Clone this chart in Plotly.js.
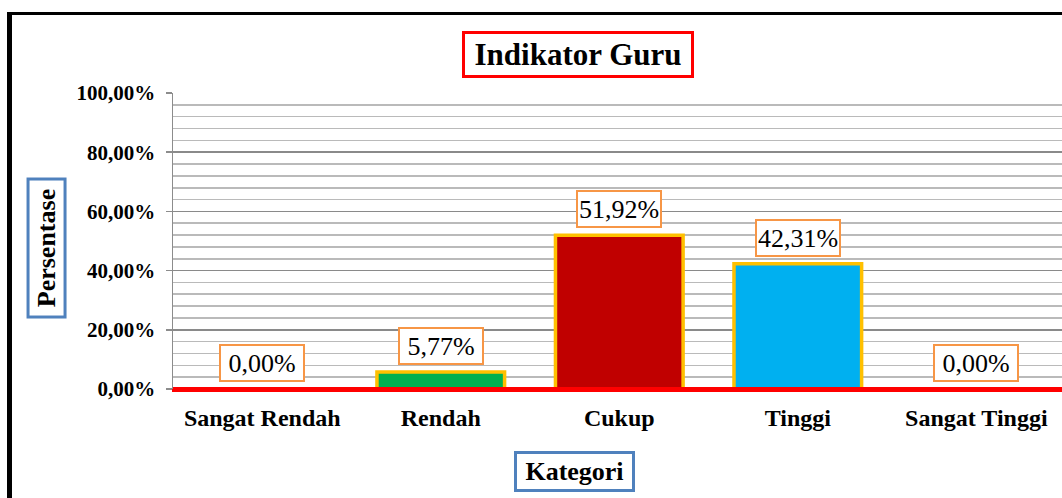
<!DOCTYPE html>
<html>
<head>
<meta charset="utf-8">
<script src="https://cdn.plot.ly/plotly-3.0.1.min.js"></script>
<style>
  html, body { margin: 0; padding: 0; background: #fff; overflow: hidden; }
  #chart { position: absolute; left: 0; top: 0; width: 1062px; height: 498px; }
  #frame { position: absolute; left: 7px; top: 12px; width: 1200px; height: 600px;
           border-left: 5px solid #000; border-top: 3px solid #000; pointer-events: none; }
</style>
</head>
<body>
<div id="chart"></div>
<div id="frame"></div>
<script>
var categories = ["Sangat Rendah", "Rendah", "Cukup", "Tinggi", "Sangat Tinggi"];
var values = [0.00, 5.77, 51.92, 42.31, 0.00];
var valueLabels = ["0,00%", "5,77%", "51,92%", "42,31%", "0,00%"];
var barColors = ["#4F81BD", "#00B050", "#C00000", "#00B0F0", "#4F81BD"];

var chartTitle = "Indikator Guru";
var yTitle = "Persentase";
var xTitle = "Kategori";

var serif = "Liberation Serif, Times New Roman, serif";

var trace = {
  type: "bar",
  x: categories,
  y: values,
  width: 0.715,
  marker: { color: barColors, line: { color: "#FFC000", width: 3.5 } },
  hoverinfo: "none"
};

var annotations = categories.map(function (c, i) {
  return {
    x: c, y: values[i], xref: "x", yref: "y",
    text: valueLabels[i], showarrow: false,
    xanchor: "center", yanchor: "bottom", yshift: 7,
    font: { family: serif, size: 26, color: "#000" },
    bgcolor: "#fff", bordercolor: "#F79646", borderwidth: 2, borderpad: 0,
    width: 82, height: 34
  };
});

annotations.push({
  xref: "paper", yref: "paper", x: 0.4556, y: 1.130,
  xanchor: "center", yanchor: "middle", showarrow: false,
  text: "<b>" + chartTitle + "</b>",
  font: { family: serif, size: 31, color: "#000" },
  bgcolor: "#fff", bordercolor: "#FF0000", borderwidth: 3, borderpad: 0,
  width: 226, height: 41
});
annotations.push({
  xref: "paper", yref: "paper", x: -0.1417, y: 0.4747,
  xanchor: "center", yanchor: "middle", showarrow: false, textangle: -90,
  text: "<b>" + yTitle + "</b>",
  font: { family: serif, size: 26, color: "#000" },
  bgcolor: "#fff", bordercolor: "#4F81BD", borderwidth: 3, borderpad: 0,
  width: 135, height: 34
});
annotations.push({
  xref: "paper", yref: "paper", x: 0.4516, y: -0.2804,
  xanchor: "center", yanchor: "middle", showarrow: false,
  text: "<b>" + xTitle + "</b>",
  font: { family: serif, size: 26, color: "#000" },
  bgcolor: "#fff", bordercolor: "#4F81BD", borderwidth: 3, borderpad: 0,
  width: 115, height: 35
});

var layout = {
  width: 1062, height: 498,
  margin: { l: 173, r: 0, t: 93, b: 109, pad: 0 },
  paper_bgcolor: "#fff", plot_bgcolor: "#fff",
  separators: ",.",
  showlegend: false,
  xaxis: {
    type: "category",
    range: [-0.5, 4.48],
    showgrid: false, zeroline: false,
    showline: true, linecolor: "#FF0000", linewidth: 2.5,
    ticks: "",
    tickfont: { family: serif, size: 24, color: "#000", weight: "bold" },
    ticklabelstandoff: 6
  },
  yaxis: {
    range: [0, 100],
    tickmode: "linear", tick0: 0, dtick: 20,
    tickformat: ".2f", ticksuffix: "%",
    tickfont: { family: serif, size: 21, color: "#000", weight: "bold" },
    ticklabelstandoff: 6,
    showgrid: true, gridcolor: "#8A8A8A", gridwidth: 1.6,
    zeroline: false,
    showline: true, linecolor: "#8C8C8C", linewidth: 1.5,
    ticks: "outside", ticklen: 6, tickwidth: 1.5, tickcolor: "#8C8C8C",
    minor: { dtick: 4, showgrid: true, gridcolor: "#BABABA", gridwidth: 1.6, ticks: "" }
  },
  shapes: [{
    type: "line", xref: "paper", yref: "y", x0: 0, x1: 1, y0: 0, y1: 0,
    line: { color: "#FF0000", width: 4 }, layer: "above"
  }],
  annotations: annotations
};

Plotly.newPlot("chart", [trace], layout, { displayModeBar: false, staticPlot: true });
</script>
</body>
</html>
